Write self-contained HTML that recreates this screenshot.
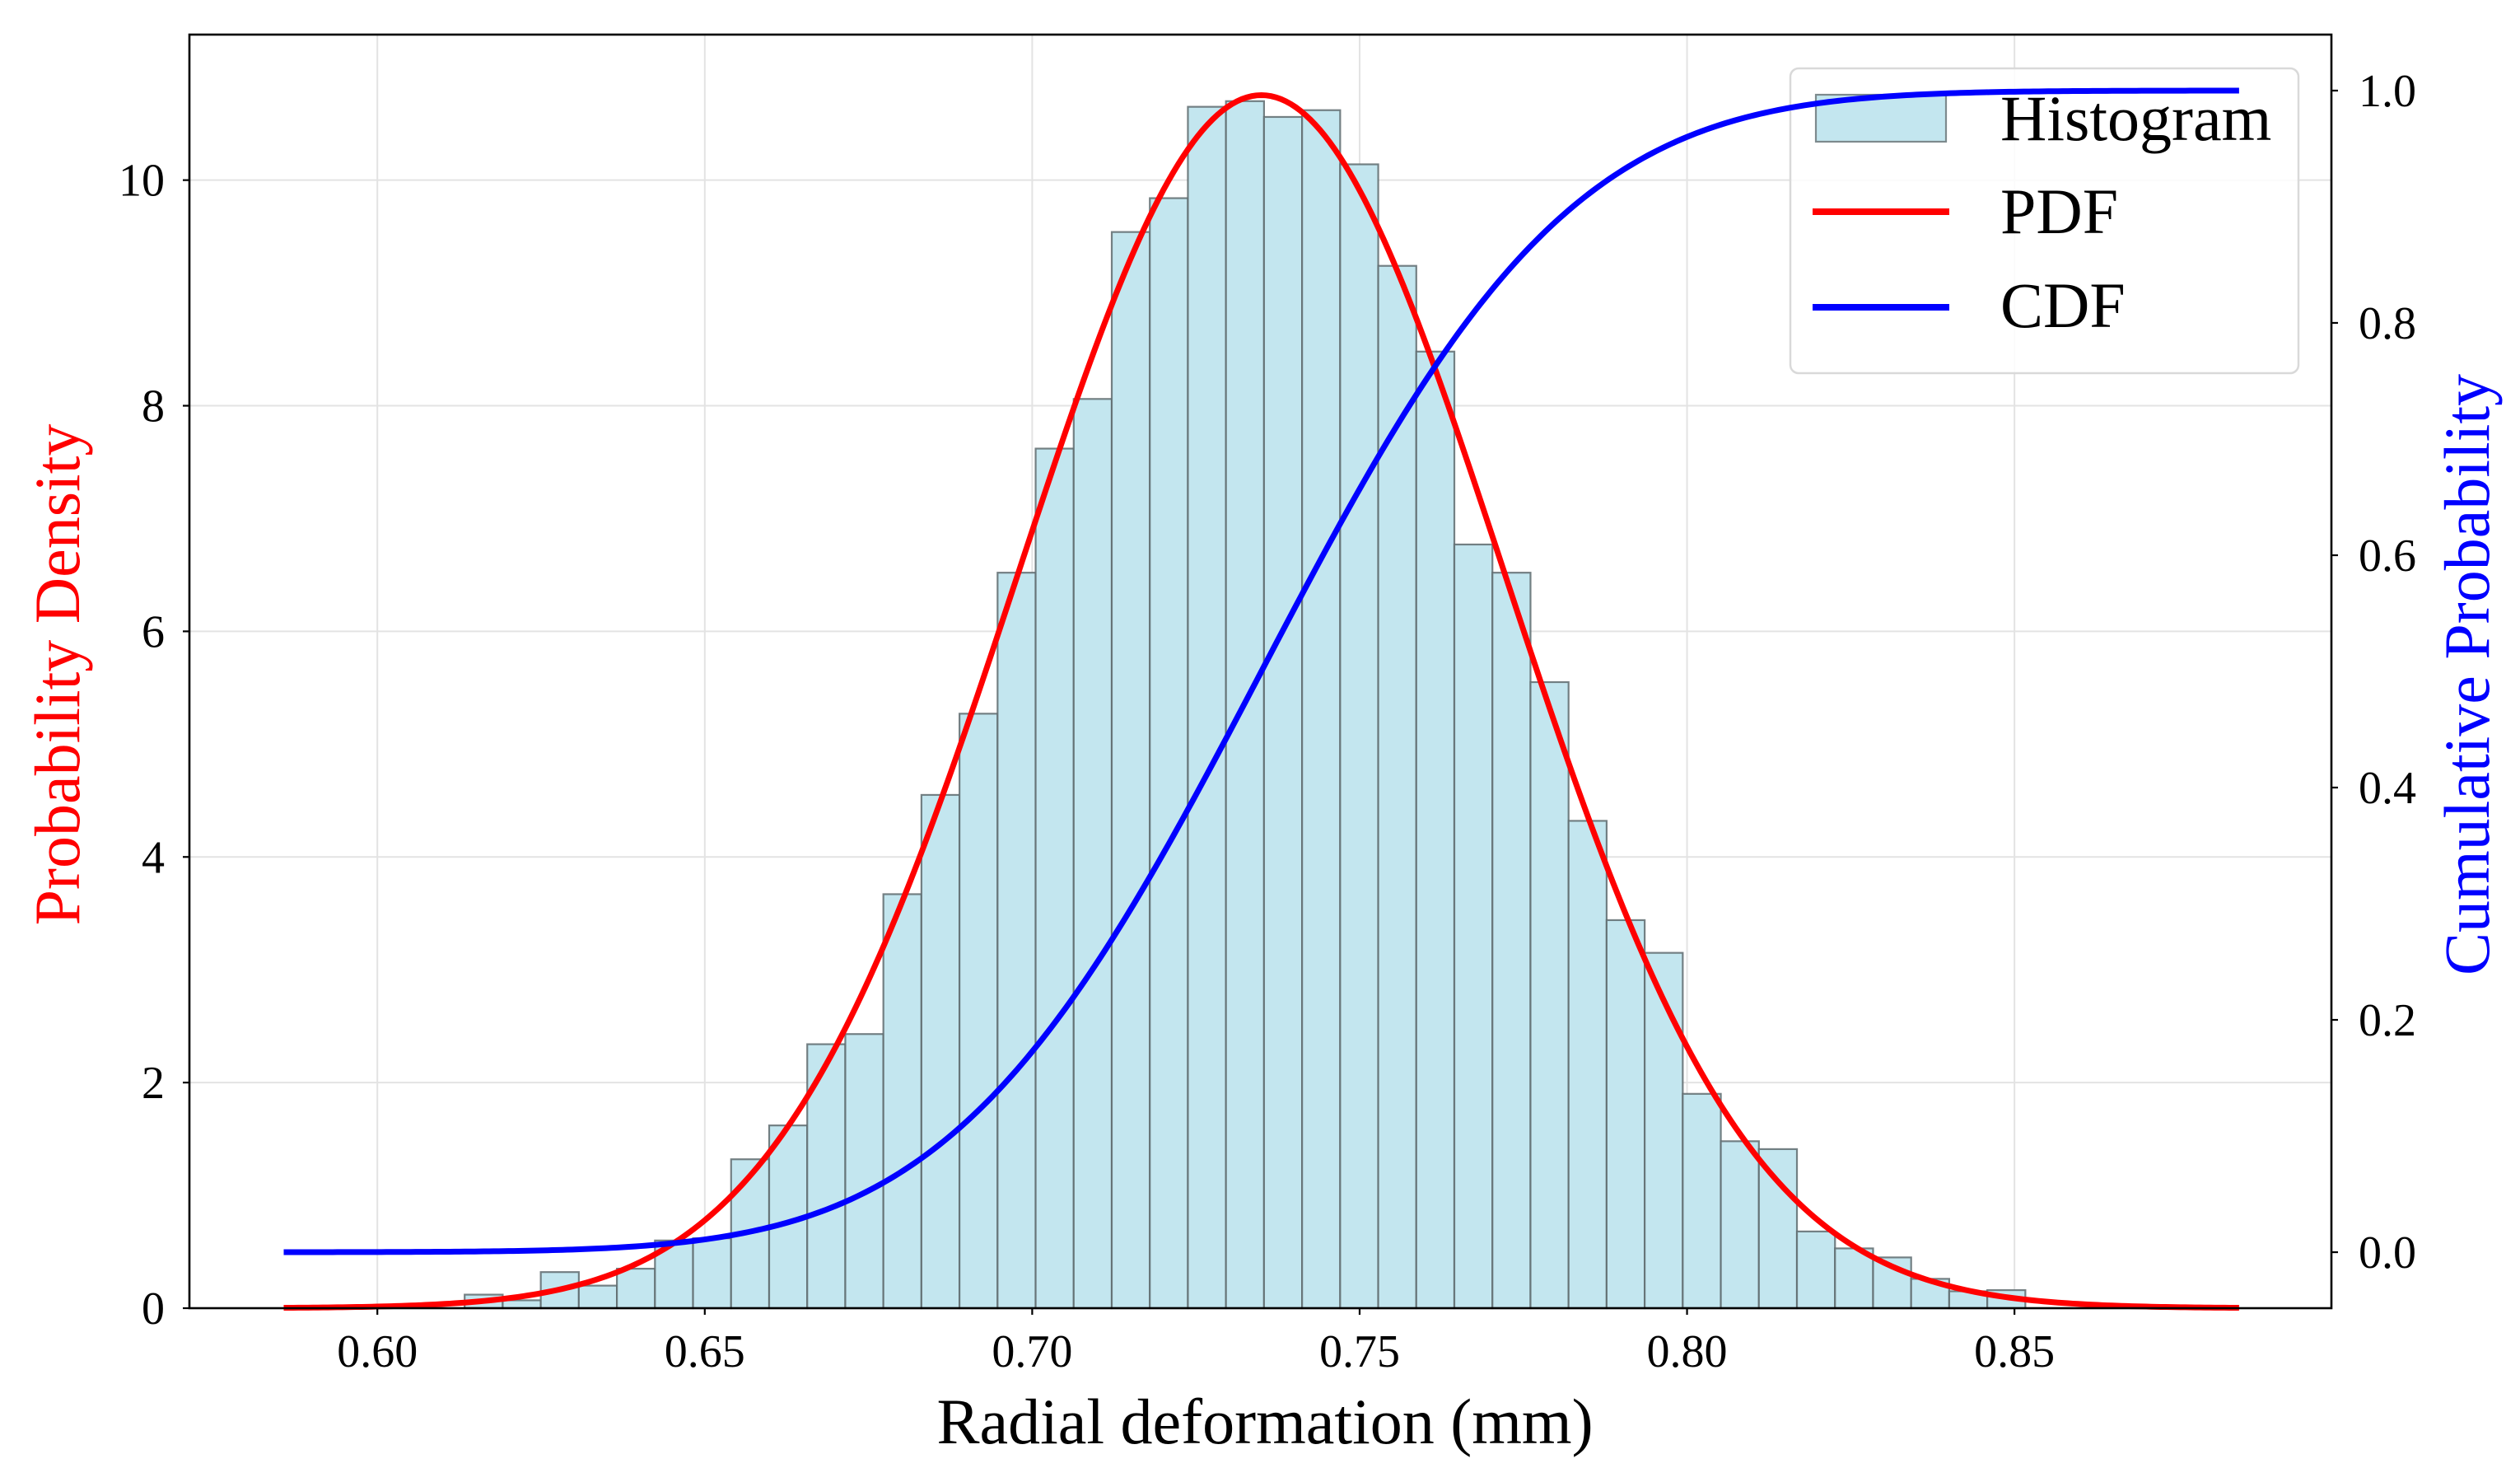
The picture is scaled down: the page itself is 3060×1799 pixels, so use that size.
<!DOCTYPE html>
<html><head><meta charset="utf-8"><title>Radial deformation distribution</title>
<style>
html,body{margin:0;padding:0;background:#fff;}
svg{display:block;font-family:"Liberation Serif","DejaVu Serif",serif;}
</style></head>
<body>
<svg id="chart" width="3060" height="1799" viewBox="0 0 3060 1799" xmlns="http://www.w3.org/2000/svg" font-family="Liberation Serif, DejaVu Serif, serif">
  <g id="legend">
    <rect x="2174" y="83" width="617" height="370" rx="10" fill="#fff" fill-opacity="0.85" stroke="#d9d9d9" stroke-width="2.5"/>
    <rect x="2205" y="115" width="158" height="57" fill="#c3e6ef" stroke="#7d8a8d" stroke-width="2.2"/>
    <text x="2429" y="170" font-size="78" fill="#000">Histogram</text>
    <line x1="2201" y1="257" x2="2367" y2="257" stroke="#ff0000" stroke-width="8"/>
    <text x="2429" y="283" font-size="78" fill="#000">PDF</text>
    <line x1="2201" y1="373" x2="2367" y2="373" stroke="#0000ff" stroke-width="8"/>
    <text x="2429" y="397" font-size="78" fill="#000">CDF</text>
  </g>
  <text x="1536" y="1752" text-anchor="middle" font-size="78" fill="#000">Radial deformation (mm)</text>
  <text transform="translate(96,819) rotate(-90)" text-anchor="middle" font-size="78" fill="#ff0000">Probability Density</text>
  <text transform="translate(3022,819) rotate(-90)" text-anchor="middle" font-size="78" fill="#0000ff">Cumulative Probability</text>
</svg>
<script>
// ---- data ----
const binStart = 0.61333;
const binWidth = 0.005813;
const binHeights = [0.12,0.07,0.32,0.2,0.35,0.6,0.62,1.32,1.62,2.34,2.43,3.67,4.55,5.27,6.52,7.62,8.06,9.54,9.84,10.65,10.7,10.56,10.62,10.14,9.24,8.48,6.77,6.52,5.55,4.32,3.44,3.15,1.9,1.48,1.41,0.68,0.53,0.45,0.26,0.15,0.16];
const fitMean = [0.735];
const fitSigma = [0.0371];
const curveRange = [0.5857, 0.8843];
const xTicks = [0.60,0.65,0.70,0.75,0.80,0.85];
const xTickLabels = ["0.60","0.65","0.70","0.75","0.80","0.85"];
const yTicks = [0,2,4,6,8,10];
const yTickLabels = ["0","2","4","6","8","10"];
const y2Ticks = [0,0.2,0.4,0.6,0.8,1.0];
const y2TickLabels = ["0.0","0.2","0.4","0.6","0.8","1.0"];

// ---- axes ----
const L=230,R=2831,T=42,B=1588;
const xMin=0.5713,xMax=0.8984;
const yMin=0,yMax=11.29;
const y2Min=-0.0482,y2Max=1.0482;
const sx=v=>L+(v-xMin)/(xMax-xMin)*(R-L);
const sy=v=>B-(v-yMin)/(yMax-yMin)*(B-T);
const sy2=v=>B-(v-y2Min)/(y2Max-y2Min)*(B-T);

const NS="http://www.w3.org/2000/svg";
const svg=document.getElementById('chart');
const legend=document.getElementById('legend');
function mk(tag,attrs,parent,before){const e=document.createElementNS(NS,tag);for(const k in attrs)e.setAttribute(k,attrs[k]);
if(before)svg.insertBefore(e,legend);else (parent||svg).appendChild(e);return e;}

// grid
const grid=mk('g',{},null,true);


xTicks.forEach(v=>{const l=mk('line',{x1:sx(v),x2:sx(v),y1:T,y2:B,stroke:'#e3e3e3','stroke-width':2},grid);

});
yTicks.forEach(v=>{const l=mk('line',{x1:L,x2:R,y1:sy(v),y2:sy(v),stroke:'#e3e3e3','stroke-width':2},grid);

});

// bars
const bars=mk('g',{},null,true);


binHeights.forEach((h,i)=>{const x0=sx(binStart+i*binWidth),x1=sx(binStart+(i+1)*binWidth);
const r=mk('rect',{x:x0,y:sy(h),width:x1-x0,height:sy(0)-sy(h),fill:'#c3e6ef',stroke:'#5f6b6e','stroke-width':2.2,'stroke-opacity':0.85},bars);

});

// curves
function erf(x){const s=Math.sign(x);x=Math.abs(x);const t=1/(1+0.3275911*x);
const y=1-(((((1.061405429*t-1.453152027)*t)+1.421413741)*t-0.284496736)*t+0.254829592)*t*Math.exp(-x*x);return s*y;}
const mu=fitMean[0],sg=fitSigma[0];
let pdfD='',cdfD='';
for(let i=0;i<=400;i++){const x=curveRange[0]+(curveRange[1]-curveRange[0])*i/400;
const p=Math.exp(-0.5*((x-mu)/sg)**2)/(sg*Math.sqrt(2*Math.PI));
const c=0.5*(1+erf((x-mu)/(sg*Math.SQRT2)));
pdfD+=(i?'L':'M')+sx(x).toFixed(2)+','+sy(p).toFixed(2);
cdfD+=(i?'L':'M')+sx(x).toFixed(2)+','+sy2(c).toFixed(2);}
const pdf=mk('path',{d:pdfD,fill:'none',stroke:'#ff0000','stroke-width':7},null,true);


const cdf=mk('path',{d:cdfD,fill:'none',stroke:'#0000ff','stroke-width':7});



// frame
const frame=mk('rect',{x:L,y:T,width:R-L,height:B-T,fill:'none',stroke:'#000','stroke-width':2.6});



// x ticks
xTicks.forEach((v,i)=>{mk('line',{x1:sx(v),x2:sx(v),y1:B,y2:B+8,stroke:'#000','stroke-width':2.2});
const t=mk('text',{x:sx(v),y:1659,'text-anchor':'middle','font-size':56,fill:'#000'});t.textContent=xTickLabels[i];

});
// left y ticks
yTicks.forEach((v,i)=>{mk('line',{x1:L-8,x2:L,y1:sy(v),y2:sy(v),stroke:'#000','stroke-width':2.2});
const t=mk('text',{x:200,y:sy(v)+19,'text-anchor':'end','font-size':56,fill:'#000'});t.textContent=yTickLabels[i];

});
// right y ticks
y2Ticks.forEach((v,i)=>{mk('line',{x1:R,x2:R+8,y1:sy2(v),y2:sy2(v),stroke:'#000','stroke-width':2.2});
const t=mk('text',{x:2864,y:sy2(v)+19,'text-anchor':'start','font-size':56,fill:'#000'});t.textContent=y2TickLabels[i];

});
</script>
</body></html>
